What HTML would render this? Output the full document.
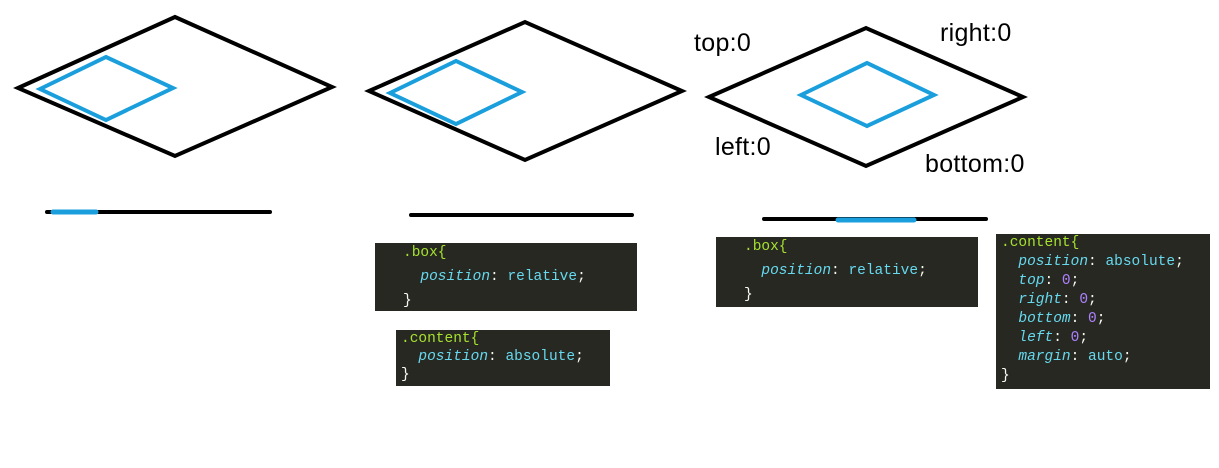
<!DOCTYPE html>
<html><head><meta charset="utf-8"><style>
html,body{margin:0;padding:0;background:#fff;width:1219px;height:468px;overflow:hidden;position:relative}
.code{position:absolute;background:#272822;font-family:"Liberation Mono","DejaVu Sans Mono",monospace;font-size:14.5px;color:#f8f8f2;white-space:pre;line-height:19px;box-sizing:border-box}
.s{color:#a6e22e}.p{color:#66d9ef;font-style:italic}.v{color:#66d9ef}.n{color:#ae81ff}
.lbl{position:absolute;font-family:"Liberation Sans",sans-serif;font-size:25px;color:#000;letter-spacing:0.3px}
</style></head><body>
<svg width="1219" height="468" style="position:absolute;left:0;top:0">
<g fill="none" stroke-linejoin="miter">
<polygon points="18,88 175,17 332,87 175,156" stroke="#000" stroke-width="4"/>
<polygon points="40,89 106,57 173,88 106,120" stroke="#1a9fdc" stroke-width="4"/>
<polygon points="369,91 525,22 682,91 525,160" stroke="#000" stroke-width="4"/>
<polygon points="390,93 456,61 522,92 456,124" stroke="#1a9fdc" stroke-width="4"/>
<polygon points="709,97 866,28 1023,97 866,166" stroke="#000" stroke-width="4"/>
<polygon points="801,95 867,63 934,95 867,126" stroke="#1a9fdc" stroke-width="4"/>
</g>
<g stroke-linecap="round">
<line x1="47" y1="212" x2="270" y2="212" stroke="#000" stroke-width="4"/>
<line x1="53" y1="212" x2="96" y2="212" stroke="#1a9fdc" stroke-width="5"/>
<line x1="411" y1="215" x2="632" y2="215" stroke="#000" stroke-width="4"/>
<line x1="764" y1="219" x2="986" y2="219" stroke="#000" stroke-width="4"/>
<line x1="838" y1="220" x2="914" y2="220" stroke="#1a9fdc" stroke-width="5"/>
</g>
</svg>
<div class="lbl" style="left:694px;top:29px">top:0</div>
<div class="lbl" style="left:940px;top:19px">right:0</div>
<div class="lbl" style="left:715px;top:133px">left:0</div>
<div class="lbl" style="left:925px;top:150px">bottom:0</div>

<div class="code" style="left:375px;top:243px;width:262px;height:68px;padding:0 0 0 28px;line-height:21px"><span class="s">.box{</span>
<span style="line-height:27px">  <span class="p">position</span>: <span class="v">relative</span>;</span>
}</div>
<div class="code" style="left:396px;top:330px;width:214px;height:56px;padding:0 0 0 5px;line-height:18px"><span class="s">.content{</span>
  <span class="p">position</span>: <span class="v">absolute</span>;
}</div>
<div class="code" style="left:716px;top:237px;width:262px;height:70px;padding:0 0 0 28px;line-height:21px"><span class="s">.box{</span>
<span style="line-height:27px">  <span class="p">position</span>: <span class="v">relative</span>;</span>
}</div>
<div class="code" style="left:996px;top:234px;width:214px;height:155px;padding:0 0 0 5px;line-height:19px"><span class="s">.content{</span>
  <span class="p">position</span>: <span class="v">absolute</span>;
  <span class="p">top</span>: <span class="n">0</span>;
  <span class="p">right</span>: <span class="n">0</span>;
  <span class="p">bottom</span>: <span class="n">0</span>;
  <span class="p">left</span>: <span class="n">0</span>;
  <span class="p">margin</span>: <span class="v">auto</span>;
}</div>
</body></html>
